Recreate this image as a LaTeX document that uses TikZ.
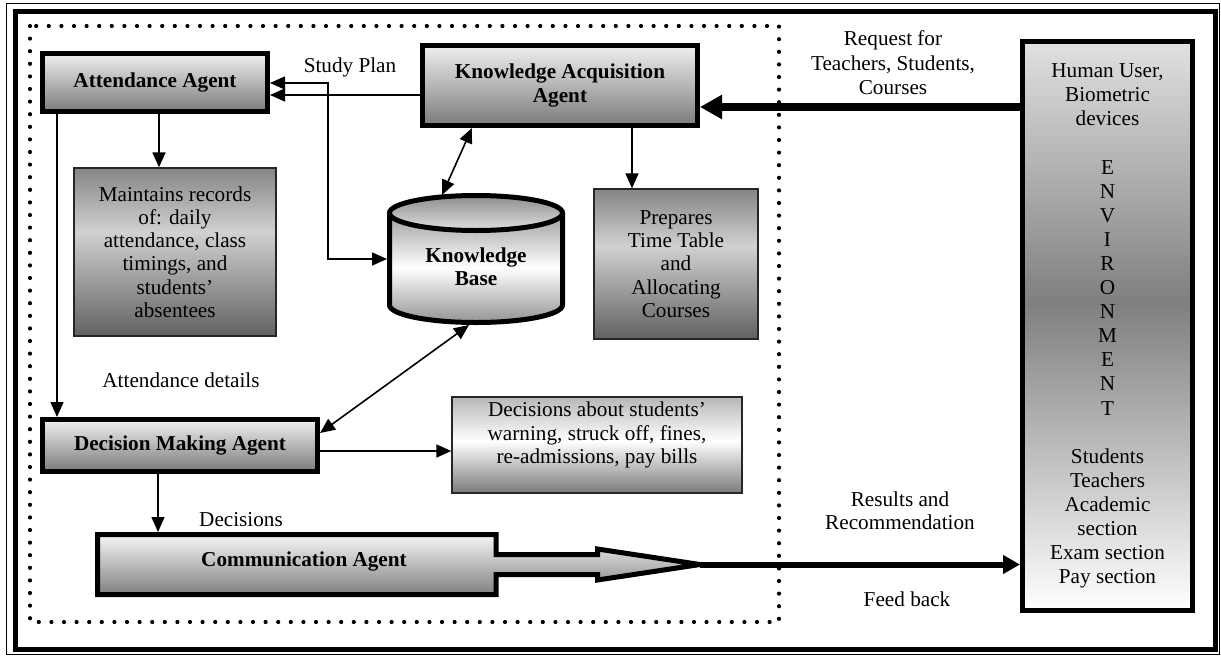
\documentclass[tikz,border=0pt]{standalone}
\usepackage{fontspec}
\setmainfont{Liberation Serif}
\usetikzlibrary{arrows.meta,calc}
\pgfdeclareverticalshading{recshade}{100bp}{color(0bp)=(black!62); color(25bp)=(black!62); color(56bp)=(black!18); color(75bp)=(black!48); color(100bp)=(black!48)}
\pgfdeclareverticalshading{decshade}{100bp}{color(0bp)=(black!52); color(25bp)=(black!52); color(52bp)=(white); color(75bp)=(black!28); color(100bp)=(black!28)}
\pgfdeclareverticalshading{envshade}{100bp}{color(0bp)=(white); color(25bp)=(white); color(52bp)=(black!50); color(75bp)=(black!12); color(100bp)=(black!12)}
\pgfdeclareverticalshading{kbshade}{100bp}{color(0bp)=(black!42); color(25bp)=(black!42); color(50bp)=(white); color(75bp)=(black!38); color(100bp)=(black!38)}
\newcommand{\fsz}{\fontsize{21.2}{23.3}\selectfont}
\begin{document}
\begin{tikzpicture}[x=1pt,y=-1pt,
  agent/.style={draw, line width=5pt, top color=black!6, bottom color=black!52, font=\fsz\bfseries, align=center, inner sep=0pt},
  infobox/.style={draw=black!85, line width=1.3pt, font=\fsz, align=center, inner sep=0pt},
  lbl/.style={font=\fsz, align=center, inner sep=0pt},
  arr/.style={line width=1.6pt, -{Triangle[length=15pt,width=13pt]}},
  darr/.style={line width=1.6pt, {Triangle[length=15pt,width=13pt]}-{Triangle[length=15pt,width=13pt]}},
  dotbox/.style={line width=4.2pt, line cap=round, dash pattern=on 0pt off 12.6pt}
]
\useasboundingbox (0,0) rectangle (1221,656);
\fill[white] (0,0) rectangle (1221,656);
% frame
\draw[line width=1pt] (6,3) rectangle (1219,654);
\draw[line width=5pt] (15,11.5) rectangle (1215,649);
% dotted region
\draw[dotbox] (30,26) rectangle (779,622);

% agents
\node[agent, minimum width=225pt, minimum height=58pt] (aa) at (155,82.5) {Attendance Agent};
\node[agent, minimum width=275pt, minimum height=80pt] (kaa) at (560,85.5) {Knowledge Acquisition\\Agent};
\node[agent, minimum width=275pt, minimum height=52pt] (dma) at (180,445.5) {Decision Making Agent};

% info boxes
\node[infobox, shading=recshade, minimum width=202pt, minimum height=168pt] (mnt) at (175,252) {Maintains records\\of: daily\\attendance, class\\timings, and\\students’\\absentees};
\node[infobox, shading=recshade, minimum width=164pt, minimum height=150pt] (prep) at (676,264) {Prepares\\Time Table\\and\\Allocating\\Courses};
\node[infobox, shading=decshade, minimum width=290pt, minimum height=96pt] (dec) at (597,445) {};
\node[lbl] (dectxt) at (597,435) {Decisions about students’\\warning, struck off, fines,\\re-admissions, pay bills};

% knowledge base cylinder
\node[minimum width=178pt, minimum height=130pt, inner sep=0pt, outer sep=0pt] (kb) at (476,259) {};
\draw[line width=5pt, shading=kbshade] (389.5,213) -- (389.5,305) arc[start angle=180, end angle=0, x radius=86.5, y radius=17.5] -- (562.5,213);
\draw[line width=5pt, top color=black!45, bottom color=black!12] (476,213) ellipse[x radius=86.5, y radius=17.5];
\node[lbl, font=\fsz\bfseries] (kbtxt) at (476,266.5) {Knowledge\\Base};
\coordinate (kbtop) at (442,195);
\coordinate (kbbot) at (469,325);

% environment
\node[draw, line width=5pt, shading=envshade, minimum width=170pt, minimum height=569pt, align=center, font=\fontsize{21.2}{24.1}\selectfont, inner sep=0pt] (env) at (1107.5,326) {Human User,\\Biometric\\devices\\[24.1pt]E\\N\\V\\I\\R\\O\\N\\M\\E\\N\\T\\[24.1pt]Students\\Teachers\\Academic\\section\\Exam section\\Pay section};

% communication agent (box with arrow)
\node[minimum width=403pt, minimum height=65pt, inner sep=0pt, outer sep=0pt] (ca) at (296.5,564.5) {};
\draw[line width=5pt, top color=black!3, bottom color=black!50, line join=miter]
  (97.5,534.5) -- (496,534.5) -- (496,554.5) -- (597.5,554.5) -- (597.5,549) -- (700,564.5)
  -- (597.5,580) -- (597.5,574.5) -- (496,574.5) -- (496,594.5) -- (97.5,594.5) -- cycle;
\node[lbl, font=\fsz\bfseries] (catxt) at (304,561) {Communication Agent};
\coordinate (catip) at (700,564.5);

% connectors
\draw[arr] (kaa.west |- 0,95) -- (aa.east |- 0,95);
\draw[darr] (aa.east |- 0,83) -- (328,83) -- (328,259) -- (kb.west);
\draw[arr] (aa.south -| 159,0) -- (mnt.north -| 159,0);
\draw[arr] (aa.south -| 57,0) -- (dma.north -| 57,0);
\draw[darr] (kaa.south -| 472,0) -- (kbtop);
\draw[arr] (kaa.south -| 632,0) -- (prep.north -| 632,0);
\draw[darr] (kbbot) -- (dma.east |- 0,433);
\draw[arr] (dma.east |- 0,451) -- (dec.west |- 0,451);
\draw[arr] (dma.south -| 158,0) -- (ca.north -| 158,0);
\draw[line width=7.5pt, -{Triangle[length=22pt,width=23pt]}] (env.west |- 0,107) -- (kaa.east |- 0,107);
\draw[line width=6pt, -{Triangle[length=17pt,width=18pt]}] (catip) -- (env.west |- catip);

% labels
\node[lbl] (sp) at (350,67) {Study Plan};
\node[lbl] (ad) at (181,380) {Attendance details};
\node[lbl] (dl) at (241,520) {Decisions};
\node[lbl, font=\fontsize{21.2}{24.5}\selectfont] (rq) at (893,63) {Request for\\Teachers, Students,\\Courses};
\node[lbl] (rr) at (900,510.5) {Results and\\Recommendation};
\node[lbl] (fb) at (907,599) {Feed back};
\end{tikzpicture}
\end{document}
